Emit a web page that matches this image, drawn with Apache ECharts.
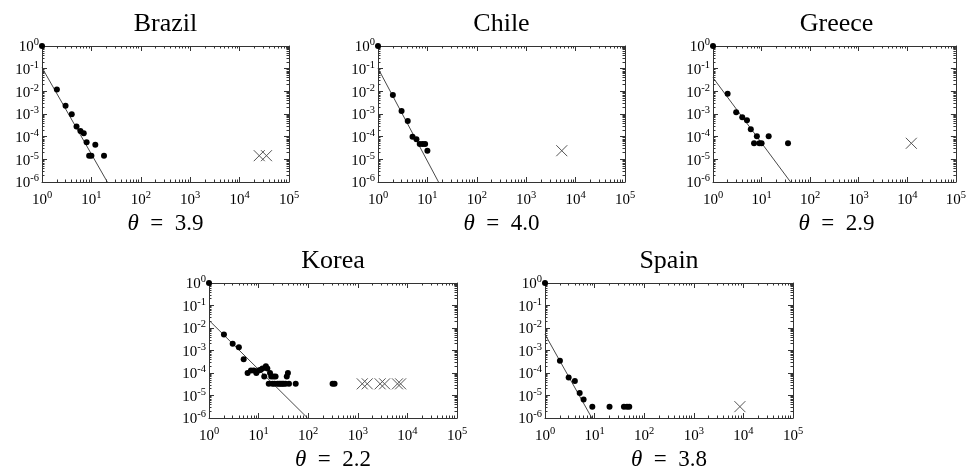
<!DOCTYPE html>
<html>
<head>
<meta charset="utf-8">
<script src="https://cdn.jsdelivr.net/npm/echarts@6/dist/echarts.min.js"></script>
<style>html,body{margin:0;padding:0;background:#fff}#c{width:969px;height:469px}</style>
</head>
<body>
<div id="c"></div>
<script>
// ---- data ----
const countries = ['Brazil', 'Chile', 'Greece', 'Korea', 'Spain'];
const thetas = ['3.9', '4.0', '2.9', '2.2', '3.8'];

const brazilPoints = [[1,1],[2,1.2e-2],[3,2.3e-3],[4,9.8e-4],[5,2.8e-4],[6,1.8e-4],[7,1.4e-4],[8,5.7e-5],[9,1.45e-5],[10,1.45e-5],[12,4.4e-5],[18,1.45e-5]];
const brazilCrosses = [[25000,1.45e-5],[35000,1.45e-5]];
const brazilFit = [[1,0.111],[21,1e-6]];

const chilePoints = [[1,1],[2,6.9e-3],[3,1.35e-3],[4,4.9e-4],[5,1.0e-4],[6,7.6e-5],[7,4.8e-5],[8,4.8e-5],[9,4.8e-5],[10,2.4e-5]];
const chileCrosses = [[5250,2.4e-5]];
const chileFit = [[1,0.104],[16.8,1e-6]];

const greecePoints = [[1,1],[2,7.9e-3],[3,1.18e-3],[4,7.1e-4],[5,5.3e-4],[6,2.1e-4],[7,5.1e-5],[8,1.04e-4],[9,5.1e-5],[10,5.1e-5],[14,1.04e-4],[35,5.1e-5]];
const greeceCrosses = [[12100,5.1e-5]];
const greeceFit = [[1,0.04],[39.5,1e-6]];

const koreaPoints = [[1,1],[2,5.2e-3],[3,2.0e-3],[4,1.4e-3],[5,4.1e-4],[6,1.0e-4],[7,1.3e-4],[8,1.3e-4],[9,1.0e-4],[10,1.3e-4],[11,1.4e-4],[12,1.6e-4],[13,7e-5],[14,2.0e-4],[15,1.6e-4],[16,3.3e-5],[17,1.0e-4],[18,7e-5],[19,3.3e-5],[20,7e-5],[21,3.3e-5],[22,7e-5],[24,3.3e-5],[26,3.3e-5],[28,3.3e-5],[30,3.3e-5],[32,3.3e-5],[35,3.3e-5],[37,7e-5],[39,1.0e-4],[41,3.3e-5],[56,3.3e-5],[310,3.3e-5],[340,3.3e-5]];
const koreaCrosses = [[1230,3.3e-5],[1550,3.3e-5],[2820,3.3e-5],[3470,3.3e-5],[6300,3.3e-5],[7300,3.3e-5]];
const koreaFit = [[1,0.022],[97,1e-6]];

const spainPoints = [[1,1],[2,3.5e-4],[3,6.3e-5],[4,4.4e-5],[5,1.3e-5],[6,6.6e-6],[9,3.2e-6],[20,3.2e-6],[39,3.2e-6],[45,3.2e-6],[50,3.2e-6]];
const spainCrosses = [[8500,3.2e-6]];
const spainFit = [[1,5.2e-3],[8.8,1e-6]];

const allPoints = [brazilPoints, chilePoints, greecePoints, koreaPoints, spainPoints];
const allCrosses = [brazilCrosses, chileCrosses, greeceCrosses, koreaCrosses, spainCrosses];
const allFits = [brazilFit, chileFit, greeceFit, koreaFit, spainFit];

// ---- layout ----
const SERIF = "'Liberation Serif','DejaVu Serif','Times New Roman',serif";
const grids = [
  {left:42, top:46, width:247, height:136},
  {left:378, top:46, width:247, height:136},
  {left:713, top:46, width:247, height:136},
  {left:209, top:283, width:248, height:135},
  {left:545, top:283, width:248, height:135}
];

function minorValues(lo, hi) {
  const out = [];
  for (let d = lo; d < hi; d++) {
    for (let k = 2; k <= 9; k++) out.push(k * Math.pow(10, d));
  }
  return out;
}
const xMinor = minorValues(0, 5);
const yMinor = minorValues(-6, 0);

const AXC = '#333';
const rich = {
  b: {fontFamily: SERIF, fontSize: 15, color: '#000', verticalAlign: 'bottom'},
  s: {fontFamily: SERIF, fontSize: 10.5, color: '#000', verticalAlign: 'top', padding: [0,0,7,0]}
};
function powLabel(v) {
  const e = Math.round(Math.log10(v));
  return '{b|10}{s|' + e + '}';
}

function axesFor(gi, dim) {
  const isX = dim === 'x';
  const base = {
    type: 'log', logBase: 10, gridIndex: gi,
    min: isX ? 1 : 1e-6, max: isX ? 1e5 : 1,
    splitLine: {show: false}, minorTick: {show: false}, minorSplitLine: {show: false}
  };
  const p1 = isX ? 'bottom' : 'left';
  const p2 = isX ? 'top' : 'right';
  const minor = isX ? xMinor : yMinor;
  const mk = (pos, isMajor, labels) => Object.assign({}, base, {
    position: pos,
    axisLine: {show: isMajor, onZero: false, lineStyle: {color: AXC, width: 1}},
    axisTick: isMajor ? {show: true, inside: true, length: 5, lineStyle: {color: AXC, width: 1}}
                      : {show: true, inside: true, length: 2.5, customValues: minor, lineStyle: {color: AXC, width: 1}},
    axisLabel: labels ? {show: true, formatter: powLabel, rich: rich, margin: isX ? 8 : 3} : {show: false}
  });
  return [mk(p1, true, true), mk(p1, false, false), mk(p2, true, false), mk(p2, false, false)];
}

const xAxis = [], yAxis = [], series = [], graphic = [];
grids.forEach((g, gi) => {
  xAxis.push(...axesFor(gi, 'x'));
  yAxis.push(...axesFor(gi, 'y'));
  const xi = gi * 4, yi = gi * 4;
  series.push({
    type: 'line', xAxisIndex: xi, yAxisIndex: yi, data: allFits[gi],
    showSymbol: false, symbol: 'none', lineStyle: {color: '#333', width: 0.9}, clip: true, silent: true, z: 2
  });
  series.push({
    type: 'scatter', xAxisIndex: xi, yAxisIndex: yi, data: allPoints[gi],
    symbol: 'circle', symbolSize: 6, itemStyle: {color: '#000', opacity: 1}, clip: false, z: 3
  });
  series.push({
    type: 'scatter', xAxisIndex: xi, yAxisIndex: yi, data: allCrosses[gi],
    symbol: 'path://M0,0L10,10M10,0L0,10', symbolSize: 11,
    itemStyle: {color: 'rgba(0,0,0,0)', borderColor: '#555', borderWidth: 1, opacity: 1}, clip: false, z: 3
  });
  const cx = g.left + g.width / 2;
  graphic.push({
    type: 'text', x: cx, y: g.top - 22,
    style: {text: countries[gi], fontFamily: SERIF, fontSize: 26, fill: '#000', textAlign: 'center', textVerticalAlign: 'middle'}
  });
  graphic.push({
    type: 'text', x: cx, y: g.top + g.height + 42,
    style: {
      text: '{i|θ}\u2002=\u2002' + thetas[gi], fontFamily: SERIF, fontSize: 23, fill: '#000',
      textAlign: 'center', textVerticalAlign: 'middle',
      rich: {i: {fontFamily: SERIF, fontStyle: 'italic', fontSize: 23, fill: '#000'}}
    }
  });
});

const chart = echarts.init(document.getElementById('c'), null, {renderer: 'canvas'});
chart.setOption({
  animation: false,
  backgroundColor: '#fff',
  grid: grids.map(g => Object.assign({containLabel: false, show: false}, g)),
  xAxis: xAxis,
  yAxis: yAxis,
  series: series,
  graphic: graphic
});
</script>
</body>
</html>
